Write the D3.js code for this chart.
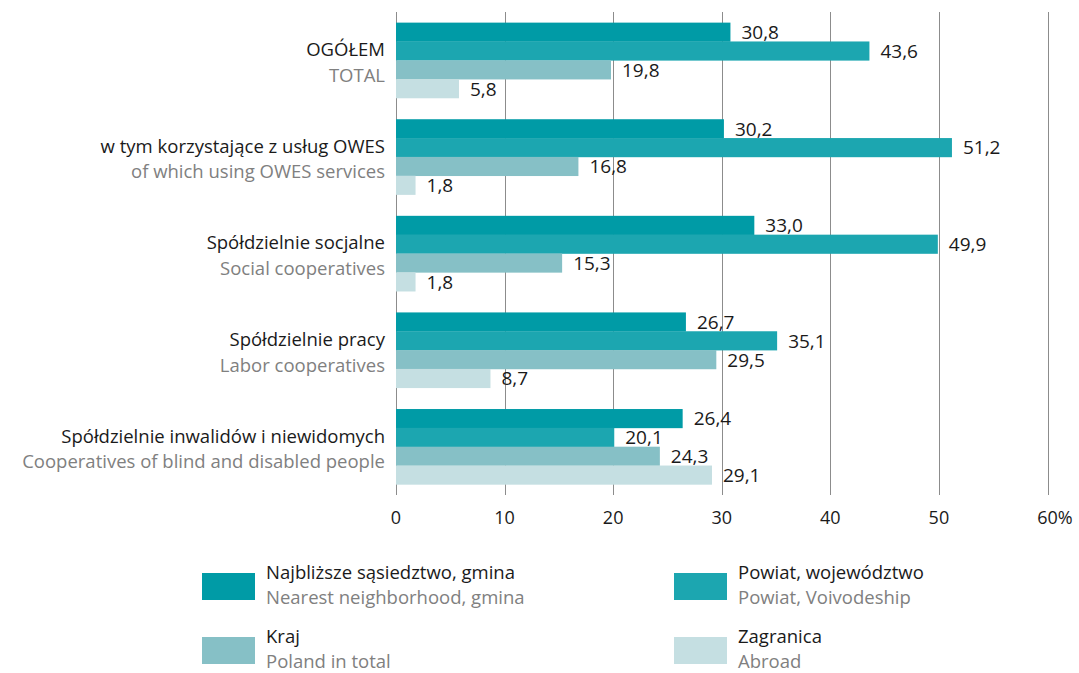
<!DOCTYPE html>
<html><head><meta charset="utf-8">
<script src="https://cdn.jsdelivr.net/npm/d3@7"></script>
<style>
body{margin:0;background:#fff;}
svg{display:block;font-family:"Open Sans",sans-serif;}
</style></head>
<body><svg id="c" width="1079" height="673"></svg>
<script>
const categoriesPL = ["OGÓŁEM","w tym korzystające z usług OWES","Spółdzielnie socjalne","Spółdzielnie pracy","Spółdzielnie inwalidów i niewidomych"];
const categoriesEN = ["TOTAL","of which using OWES services","Social cooperatives","Labor cooperatives","Cooperatives of blind and disabled people"];
const seriesPL = ["Najbliższe sąsiedztwo, gmina","Powiat, województwo","Kraj","Zagranica"];
const seriesEN = ["Nearest neighborhood, gmina","Powiat, Voivodeship","Poland in total","Abroad"];
const nearest = [30.8, 30.2, 33.0, 26.7, 26.4];
const powiat  = [43.6, 51.2, 49.9, 35.1, 20.1];
const kraj    = [19.8, 16.8, 15.3, 29.5, 24.3];
const abroad  = [5.8, 1.8, 1.8, 8.7, 29.1];
const tickValues = [0,10,20,30,40,50,60];
const tickLabels = ["0","10","20","30","40","50","60%"];
const colors = ["#009ba6","#1ca6b0","#86c0c6","#c5dfe2"];

const series = [nearest, powiat, kraj, abroad];
const svg = d3.select("#c");
const x = d3.scaleLinear().domain([0,60]).range([396,1047.5]);
const y = d3.scaleBand().domain(d3.range(categoriesPL.length)).range([12,495]).paddingInner(0.22).paddingOuter(0.11);
const yi = d3.scaleBand().domain(d3.range(series.length)).range([0,y.bandwidth()]);
const fmt = d3.formatLocale({decimal:",",thousands:" ",grouping:[3],currency:["",""]}).format(".1f");
const FS = 19, FL = 18.5;

// gridlines
svg.append("g").selectAll("line").data(tickValues).join("line")
  .attr("x1",d=>Math.round(x(d))+0.5).attr("x2",d=>Math.round(x(d))+0.5)
  .attr("y1",12).attr("y2",495).attr("stroke","#8c8c8c").attr("stroke-width",1);

// tick labels: number centred on gridline, "%" hangs to the right
const tk = svg.append("g").selectAll("text").data(tickValues).join("text")
  .attr("x",d=>x(d)).attr("y",524).attr("text-anchor","start")
  .attr("font-size",18).attr("fill","#1a1a1a")
  .text((d,i)=>tickLabels[i]);
tk.each(function(d){
  const t = d3.select(this);
  const tmp = svg.append("text").attr("font-size",18).text(String(d));
  const w = tmp.node().getComputedTextLength(); tmp.remove();
  t.attr("x", x(d) - w/2);
});

// bars
const g = svg.append("g").selectAll("g").data(categoriesPL).join("g")
  .attr("transform",(d,i)=>`translate(0,${y(i)})`);
g.each(function(c,ci){
  const gg = d3.select(this);
  series.forEach((s,si)=>{
    gg.append("rect").attr("x",x(0)).attr("y",yi(si))
      .attr("width",x(s[ci])-x(0)).attr("height",yi.bandwidth()+0.3)
      .attr("fill",colors[si]);
    gg.append("text").attr("x",x(s[ci])+11).attr("y",yi(si)+yi.bandwidth()/2+7)
      .attr("font-size",FS).attr("fill","#1a1a1a").text(fmt(s[ci]));
  });
  gg.append("text").attr("x",385).attr("y",y.bandwidth()/2-4)
    .attr("text-anchor","end").attr("font-size",FL).attr("fill","#1a1a1a").text(c);
  gg.append("text").attr("x",385).attr("y",y.bandwidth()/2+21.5)
    .attr("text-anchor","end").attr("font-size",FL).attr("fill","#808080").text(categoriesEN[ci]);
});

// legend
const lx = [202,674], ly = [573,637];
seriesPL.forEach((s,i)=>{
  const cx = lx[i%2], cy = ly[Math.floor(i/2)];
  svg.append("rect").attr("x",cx).attr("y",cy).attr("width",53).attr("height",27).attr("fill",colors[i]);
  svg.append("text").attr("x",cx+64).attr("y",cy+5.5).attr("font-size",FL).attr("fill","#1a1a1a").text(s);
  svg.append("text").attr("x",cx+64).attr("y",cy+31).attr("font-size",FL).attr("fill","#808080").text(seriesEN[i]);
});
</script></body></html>
